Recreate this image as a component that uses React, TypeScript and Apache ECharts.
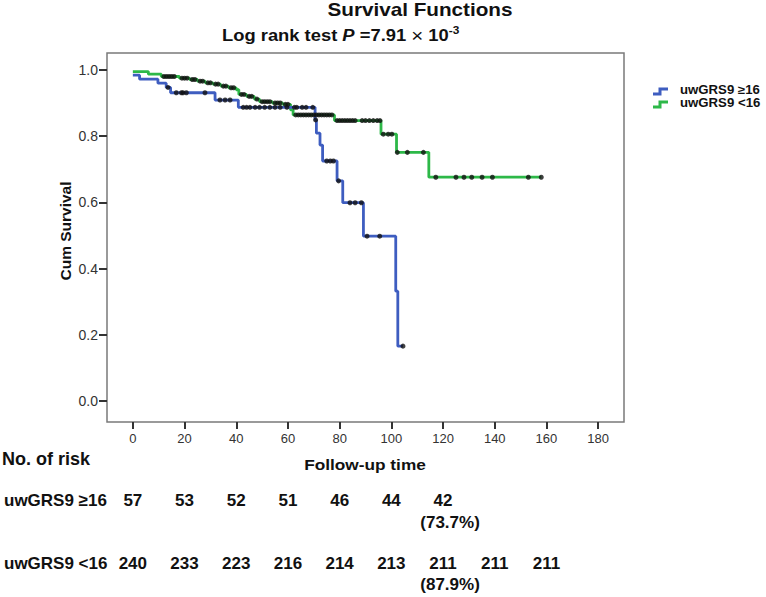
import React, { useEffect, useRef } from 'react';
import * as echarts from 'echarts';

const highName = 'uwGRS9 ≥16';
const lowName = 'uwGRS9 <16';

// [time, survival from this time on]
const highSteps: [number, number][] = [
  [0, 0.984], [2.6, 0.972], [9.7, 0.96], [12.9, 0.947], [14.6, 0.931], [31.8, 0.909],
  [40.8, 0.887], [70.5, 0.849], [71, 0.809], [72.4, 0.773], [73.4, 0.725], [79, 0.665],
  [81.2, 0.599], [89.2, 0.498], [101.7, 0.332], [102.5, 0.166], [104.5, 0.166],
];
const lowSteps: [number, number][] = [
  [0, 0.995], [6, 0.987], [11, 0.98], [18, 0.975], [22, 0.971], [25, 0.966], [28, 0.961],
  [31, 0.957], [34, 0.951], [37, 0.946], [40, 0.94], [41, 0.926], [44, 0.92], [47, 0.912],
  [49, 0.904], [54, 0.9], [58, 0.896], [61, 0.879], [62, 0.864], [78, 0.847], [96, 0.806],
  [102, 0.751], [114.5, 0.676], [158, 0.676],
];
const highCensor = [
  13.6, 16.8, 18.8, 19.4, 20.7, 27.9, 33.7, 35.7, 37.6, 42.7, 44, 45.3, 47.3, 49, 51, 53, 55,
  57, 59.6, 62.5, 63.4, 65.5, 67, 69.6, 70.7, 75, 76.4, 77.6, 79.6, 84, 86, 88.4, 90.6, 95.5, 104.5,
];
const lowCensor = [
  12, 13, 14, 15, 16, 19, 20, 21, 23, 24, 26, 27, 29, 30, 32, 33, 35, 36, 38, 39, 42, 43, 45,
  46, 48, 50, 51, 52, 53, 55, 56, 57, 59, 60, 63, 64, 65, 66, 67, 68, 69, 70, 71, 72, 73, 74,
  75, 76, 77, 79, 80, 81, 82, 83, 84, 85, 86, 88.7, 90, 91.5, 93, 94.5, 95.6, 96.9, 98.8,
  100.2, 102.3, 106.2, 112.4, 117.2, 125, 128.1, 131.1, 135.1, 139.1, 153, 158,
];
const xTicks = [0, 20, 40, 60, 80, 100, 120, 140, 160, 180];
const yTicks = [0, 0.2, 0.4, 0.6, 0.8, 1.0];
const riskTimes = [0, 20, 40, 60, 80, 100, 120, 140, 160];
const riskHigh = [57, 53, 52, 51, 46, 44, 42];
const riskLow = [240, 233, 223, 216, 214, 213, 211, 211, 211];
const pctTime = 120;
const pctHigh = '(73.7%)';
const pctLow = '(87.9%)';

const BLUE = '#3E5DC0';
const GREEN = '#2DB848';
const FONT = "'Liberation Sans', Arial, Helvetica, sans-serif";

function survAt(steps: [number, number][], t: number) {
  let v = steps[0][1];
  for (const [st, sv] of steps) if (st <= t) v = sv;
  return v;
}

export default function App() {
  const ref = useRef<HTMLDivElement>(null);
  useEffect(() => {
    document.body.style.margin = '0';
    const chart = echarts.init(ref.current!, null, { renderer: 'svg' });
    chart.setOption({
      animation: false,
      backgroundColor: '#fff',
      grid: { left: 107, right: 142, top: 53, bottom: 175, show: true, borderColor: '#7a7a7a', borderWidth: 1.5 },
      xAxis: {
        type: 'value', min: -10, max: 190,
        axisLine: { show: false, onZero: false },
        splitLine: { show: false },
        axisTick: { show: true, customValues: xTicks, length: 7, lineStyle: { color: '#333', width: 2 } },
        axisLabel: { customValues: xTicks, margin: 10, fontFamily: FONT, fontSize: 13, color: '#333' },
      },
      yAxis: {
        type: 'value', min: -0.063, max: 1.051,
        axisLine: { show: false, onZero: false },
        splitLine: { show: false },
        axisTick: { show: true, customValues: yTicks, length: 8, lineStyle: { color: '#333', width: 2 } },
        axisLabel: { customValues: yTicks, margin: 9, fontFamily: FONT, fontSize: 14, color: '#333', formatter: (v: number) => v.toFixed(1) },
      },
      series: [
        {
          name: lowName, type: 'line', step: 'end', data: lowSteps, showSymbol: false, symbol: 'none',
          lineStyle: { color: GREEN, width: 2.8 }, itemStyle: { color: GREEN }, z: 2,
        },
        {
          name: highName, type: 'line', step: 'end', data: highSteps, showSymbol: false, symbol: 'none',
          lineStyle: { color: BLUE, width: 2.8 }, itemStyle: { color: BLUE }, z: 3,
        },
        {
          name: 'censorLow', type: 'scatter', data: lowCensor.map((t) => [t, survAt(lowSteps, t)]),
          symbolSize: 5, itemStyle: { color: '#111' }, z: 5,
        },
        {
          name: 'censorHigh', type: 'scatter', data: highCensor.map((t) => [t, survAt(highSteps, t)]),
          symbolSize: 5, itemStyle: { color: '#111' }, z: 5,
        },
      ],
    });

    const px = (t: number) => chart.convertToPixel({ xAxisIndex: 0 }, t) as number;
    const txt = (x: number, y: number, text: string, size: number, align = 'center', scaleX = 1, extra: any = {}, lineHeight?: number) => ({
      type: 'text', x, y, scaleX, ...extra,
      style: { text, fontFamily: FONT, fontSize: size, fontWeight: 'bold', fill: '#111', align, verticalAlign: 'middle', ...(lineHeight ? { lineHeight } : {}) },
    });
    const legendIcon = (y: number, color: string) => ({
      type: 'polyline',
      shape: { points: [[653, y + 3], [660, y + 3], [660, y - 2], [668, y - 2]] },
      style: { stroke: color, lineWidth: 3, fill: null },
    });
    const graphics: any[] = [
      txt(420, 10, 'Survival Functions', 18, 'center', 1.15),
      {
        type: 'text', x: 222, y: 35, scaleX: 1.08,
        style: {
          text: '{a|Log rank test }{p|P}{a| =7.91 }{x|×}{a| 10}{s|-3}',
          verticalAlign: 'middle',
          rich: {
            a: { fontFamily: FONT, fontSize: 17, fontWeight: 'bold', fill: '#111', lineHeight: 20 },
            p: { fontFamily: FONT, fontSize: 17, fontWeight: 'bold', fontStyle: 'italic', fill: '#111', lineHeight: 20 },
            x: { fontFamily: FONT, fontSize: 19, fontWeight: 'normal', fill: '#111', lineHeight: 20 },
            s: { fontFamily: FONT, fontSize: 11, fontWeight: 'bold', fill: '#111', lineHeight: 20, verticalAlign: 'top' },
          },
        },
      },
      // legend
      legendIcon(91, BLUE),
      legendIcon(104, GREEN),
      txt(680, 90, highName, 12, 'left', 1.1, {}, 12),
      txt(680, 103, lowName, 12, 'left', 1.1, {}, 12),
      // axis names
      txt(365, 464, 'Follow-up time', 15, 'center', 1.15),
      txt(65, 231, 'Cum Survival', 15.5, 'center', 1, { rotation: Math.PI / 2 }),
      // risk table
      txt(2, 459, 'No. of risk', 18, 'left'),
      txt(4, 500, highName, 17, 'left'),
      txt(4, 563, lowName, 17, 'left'),
    ];
    riskHigh.forEach((n, i) => graphics.push(txt(px(riskTimes[i]), 500, String(n), 17)));
    riskLow.forEach((n, i) => graphics.push(txt(px(riskTimes[i]), 563, String(n), 17)));
    graphics.push(txt(px(pctTime) + 7, 522, pctHigh, 17));
    graphics.push(txt(px(pctTime) + 7, 584, pctLow, 17));
    chart.setOption({ graphic: graphics });

    return () => chart.dispose();
  }, []);
  return <div ref={ref} style={{ width: 766, height: 597 }} />;
}
